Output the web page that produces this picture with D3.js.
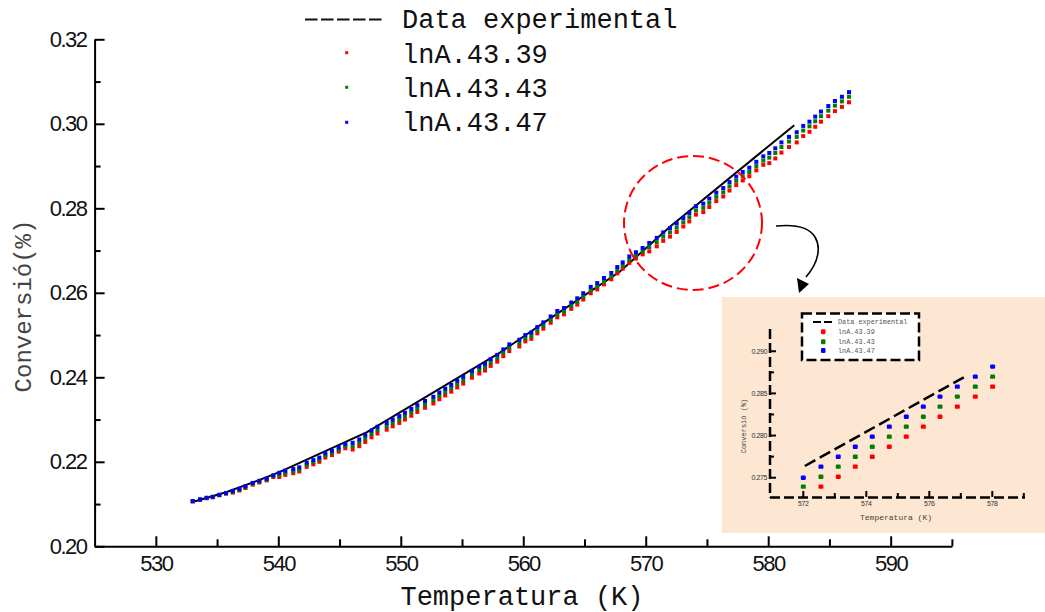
<!DOCTYPE html>
<html>
<head>
<meta charset="utf-8">
<script src="https://cdn.jsdelivr.net/npm/d3@7"></script>
<style>
  body { margin: 0; background: #fff; }
  svg { display: block; }
</style>
</head>
<body>
<svg id="chart" width="1045" height="612"></svg>
<script>
// ---- Main plot data ----
const temperature = [
  533.01, 533.61, 534.15, 534.64, 535.18, 535.73, 536.28, 536.82, 537.31, 537.91,
  538.45, 539.05, 539.59, 540.08, 540.57, 541.22, 541.71, 542.32, 542.86, 543.35,
  543.84, 544.38, 544.93, 545.47, 546.07, 546.61, 547.10, 547.61, 548.10, 548.85,
  549.34, 549.88, 550.34, 550.86, 551.35, 551.98, 552.66, 553.15, 553.63, 554.12,
  554.61, 555.10, 555.81, 556.41, 556.88, 557.34, 557.88, 558.37, 558.86, 559.68,
  560.17, 560.66, 561.15, 561.64, 562.24, 562.78, 563.33, 563.92, 564.41, 564.90,
  565.51, 566.04, 566.59, 567.19, 567.68, 568.12, 568.66, 569.20, 569.75, 570.29,
  570.90, 571.43, 571.98, 572.53, 573.07, 573.56, 574.10, 574.70, 575.19, 575.76,
  576.33, 576.84, 577.39, 577.92, 578.46, 579.03, 579.60, 580.09, 580.58, 581.08,
  581.70, 582.33, 582.86, 583.37, 583.84, 584.31, 584.91, 585.45, 586.02, 586.60
];
const conv4339 = [
  0.2106, 0.2110, 0.2114, 0.2116, 0.2121, 0.2125, 0.2127, 0.2132, 0.2138, 0.2146,
  0.2151, 0.2156, 0.2164, 0.2164, 0.2169, 0.2173, 0.2177, 0.2188, 0.2194, 0.2200,
  0.2210, 0.2216, 0.2224, 0.2232, 0.2229, 0.2237, 0.2247, 0.2258, 0.2267, 0.2276,
  0.2284, 0.2292, 0.2300, 0.2309, 0.2318, 0.2328, 0.2338, 0.2348, 0.2357, 0.2366,
  0.2376, 0.2385, 0.2399, 0.2409, 0.2416, 0.2427, 0.2437, 0.2450, 0.2462, 0.2473,
  0.2485, 0.2491, 0.2504, 0.2515, 0.2529, 0.2542, 0.2549, 0.2562, 0.2572, 0.2584,
  0.2599, 0.2608, 0.2620, 0.2632, 0.2646, 0.2657, 0.2671, 0.2681, 0.2691, 0.2698,
  0.2710, 0.2723, 0.2733, 0.2744, 0.2757, 0.2769, 0.2785, 0.2791, 0.2803, 0.2817,
  0.2828, 0.2842, 0.2855, 0.2866, 0.2876, 0.2890, 0.2903, 0.2907, 0.2918, 0.2932,
  0.2945, 0.2956, 0.2971, 0.2981, 0.2993, 0.3005, 0.3018, 0.3030, 0.3040, 0.3051
];
const conv4343 = [
  0.2107, 0.2111, 0.2114, 0.2117, 0.2121, 0.2125, 0.2129, 0.2134, 0.2140, 0.2148,
  0.2153, 0.2158, 0.2166, 0.2169, 0.2174, 0.2178, 0.2182, 0.2193, 0.2199, 0.2205,
  0.2215, 0.2221, 0.2229, 0.2237, 0.2237, 0.2245, 0.2255, 0.2266, 0.2275, 0.2284,
  0.2292, 0.2300, 0.2308, 0.2317, 0.2326, 0.2336, 0.2346, 0.2356, 0.2365, 0.2374,
  0.2384, 0.2393, 0.2407, 0.2417, 0.2424, 0.2435, 0.2445, 0.2458, 0.2470, 0.2481,
  0.2492, 0.2498, 0.2511, 0.2522, 0.2536, 0.2549, 0.2556, 0.2569, 0.2579, 0.2591,
  0.2606, 0.2615, 0.2627, 0.2639, 0.2653, 0.2664, 0.2678, 0.2688, 0.2698, 0.2708,
  0.2720, 0.2733, 0.2743, 0.2754, 0.2767, 0.2779, 0.2795, 0.2801, 0.2813, 0.2827,
  0.2838, 0.2852, 0.2865, 0.2876, 0.2886, 0.2900, 0.2913, 0.2920, 0.2931, 0.2945,
  0.2958, 0.2969, 0.2984, 0.2994, 0.3006, 0.3018, 0.3031, 0.3043, 0.3053, 0.3064
];
const conv4347 = [
  0.2107, 0.2111, 0.2115, 0.2117, 0.2122, 0.2126, 0.2131, 0.2136, 0.2142, 0.2150,
  0.2155, 0.2160, 0.2168, 0.2174, 0.2179, 0.2183, 0.2187, 0.2198, 0.2204, 0.2210,
  0.2220, 0.2226, 0.2234, 0.2242, 0.2245, 0.2253, 0.2263, 0.2274, 0.2283, 0.2292,
  0.2300, 0.2308, 0.2316, 0.2325, 0.2334, 0.2344, 0.2354, 0.2364, 0.2373, 0.2382,
  0.2392, 0.2401, 0.2415, 0.2425, 0.2432, 0.2443, 0.2453, 0.2466, 0.2478, 0.2489,
  0.2500, 0.2506, 0.2519, 0.2530, 0.2544, 0.2557, 0.2564, 0.2577, 0.2587, 0.2599,
  0.2614, 0.2623, 0.2635, 0.2647, 0.2661, 0.2672, 0.2686, 0.2696, 0.2706, 0.2718,
  0.2730, 0.2743, 0.2753, 0.2764, 0.2777, 0.2789, 0.2805, 0.2811, 0.2823, 0.2837,
  0.2848, 0.2862, 0.2875, 0.2886, 0.2896, 0.2910, 0.2923, 0.2931, 0.2942, 0.2956,
  0.2969, 0.2980, 0.2995, 0.3005, 0.3017, 0.3029, 0.3042, 0.3054, 0.3064, 0.3075
];
const experimentalT = [533.06, 535.73, 538.42, 540.08, 547.24, 558.10, 561.78, 567.90, 571.98, 582.13];
const experimentalC = [0.21055, 0.21281, 0.21565, 0.21755, 0.22703, 0.24584, 0.25312, 0.26505, 0.27565, 0.29967];

const seriesNames = ["lnA.43.39", "lnA.43.43", "lnA.43.47"];
const seriesColors = ["#ff0000", "#008000", "#0000ff"];
const xMajorTicks = [530, 540, 550, 560, 570, 580, 590];
const xMinorTicks = [535, 545, 555, 565, 575, 585, 595];
const yMajorTicks = [0.20, 0.22, 0.24, 0.26, 0.28, 0.30, 0.32];
const yMinorTicks = [0.21, 0.23, 0.25, 0.27, 0.29, 0.31];

// ---- Zoomed panel data ----
const insetT = [572.00, 572.56, 573.11, 573.65, 574.19, 574.73, 575.27, 575.81, 576.34, 576.89, 577.46, 578.01];
const insetC4339 = [null, 0.27394, 0.27512, 0.27631, 0.27749, 0.27868, 0.27987, 0.28106, 0.28224, 0.28343, 0.28462, 0.28580];
const insetC4343 = [0.27394, 0.27512, 0.27631, 0.27749, 0.27868, 0.27987, 0.28106, 0.28224, 0.28343, 0.28462, 0.28580, 0.28699];
const insetC4347 = [0.27500, 0.27631, 0.27749, 0.27868, 0.27987, 0.28106, 0.28224, 0.28343, 0.28462, 0.28580, 0.28699, 0.28818];
const insetExpT = [572.05, 577.19];
const insetExpC = [0.27639, 0.28711];
const insetXMajor = [572, 574, 576, 578];
const insetXMinor = [573, 575, 577, 579];
const insetYMajor = [0.275, 0.280, 0.285, 0.290];
const insetYMinor = [0.2775, 0.2825, 0.2875];

const svg = d3.select("#chart");
const MONO = "'Liberation Mono', 'Courier New', monospace";
const SANS = "'Liberation Sans', Arial, sans-serif";

// ---- Scales ----
const x = d3.scaleLinear().domain([525, 595]).range([94.6, 951.9]);
const y = d3.scaleLinear().domain([0.20, 0.32]).range([546.3, 39.3]);

// ---- Axes (ticks point inward) ----
const gx = svg.append("g").attr("transform", `translate(0,${y(0.20)})`);
gx.call(d3.axisBottom(x).tickValues(xMajorTicks).tickSize(-10).tickSizeOuter(0).tickPadding(9).tickFormat(d3.format("d")));
const gxMinor = svg.append("g").attr("transform", `translate(0,${y(0.20)})`);
gxMinor.call(d3.axisBottom(x).tickValues(xMinorTicks).tickSize(-7).tickSizeOuter(0).tickFormat(""));
gxMinor.select(".domain").remove();

const gy = svg.append("g").attr("transform", `translate(${x(525)},0)`);
gy.call(d3.axisLeft(y).tickValues(yMajorTicks).tickSize(-10).tickSizeOuter(0).tickPadding(8).tickFormat(d3.format(".2f")));
const gyMinor = svg.append("g").attr("transform", `translate(${x(525)},0)`);
gyMinor.call(d3.axisLeft(y).tickValues(yMinorTicks).tickSize(-6).tickSizeOuter(0).tickFormat(""));
gyMinor.select(".domain").remove();

svg.selectAll(".domain, .tick line").attr("stroke", "#000").attr("stroke-width", 2);
[gx, gy].forEach(g => g.selectAll(".tick text")
  .attr("font-family", SANS).attr("font-size", 22).attr("letter-spacing", "-1.5px").attr("fill", "#111"));

// ---- Axis titles ----
svg.append("text").attr("x", 522).attr("y", 605).attr("text-anchor", "middle")
  .attr("font-family", MONO).attr("font-size", 27).attr("fill", "#111").text("Temperatura (K)");
svg.append("text").attr("transform", "translate(31,306) rotate(-90)").attr("text-anchor", "middle")
  .attr("font-family", MONO).attr("font-size", 24).attr("fill", "#444").text("Conversió(%)");

// ---- Experimental curve ----
svg.append("path")
  .datum(experimentalT.map((t, i) => [t, experimentalC[i]]))
  .attr("fill", "none").attr("stroke", "#000").attr("stroke-width", 2)
  .attr("d", d3.line().x(d => x(d[0])).y(d => y(d[1])));

// ---- Simulated series (dots) ----
const seriesValues = [conv4339, conv4343, conv4347];
seriesValues.forEach((vals, s) => {
  svg.append("g").selectAll("rect")
    .data(temperature.map((t, i) => [t, vals[i]]))
    .join("rect")
    .attr("x", d => x(d[0]) - 2).attr("y", d => y(d[1]) - 2)
    .attr("width", 4).attr("height", 4)
    .attr("fill", seriesColors[s]);
});

// ---- Legend ----
svg.append("line").attr("x1", 305).attr("x2", 382).attr("y1", 19.5).attr("y2", 19.5)
  .attr("stroke", "#111").attr("stroke-width", 2).attr("stroke-dasharray", "12.5,3.5");
svg.append("text").attr("x", 402).attr("y", 28).attr("font-family", MONO).attr("font-size", 27)
  .attr("fill", "#111").text("Data experimental");
const legendY = [52.7, 87.3, 122.3];
const legendBase = [63, 97, 130.5];
seriesNames.forEach((name, s) => {
  svg.append("rect").attr("x", 345.2).attr("y", legendY[s] - 1.5).attr("width", 3).attr("height", 3)
    .attr("fill", seriesColors[s]);
  svg.append("text").attr("x", 402).attr("y", legendBase[s]).attr("font-family", MONO).attr("font-size", 27)
    .attr("fill", "#111").text(name);
});

// ---- Highlight circle and pointer ----
svg.append("ellipse").attr("cx", 693).attr("cy", 223).attr("rx", 69).attr("ry", 67)
  .attr("fill", "none").attr("stroke", "#ff0000").attr("stroke-width", 2).attr("stroke-dasharray", "11,5");
svg.append("path")
  .attr("d", "M776,226 C796,224 809,227 815,237 C821,247 819,262 806,277")
  .attr("fill", "none").attr("stroke", "#000").attr("stroke-width", 1.6);
svg.append("path").attr("d", "M799,293 L797,278 L809,284 Z").attr("fill", "#000");

// ---- Zoomed panel ----
const inset = svg.append("g");
inset.append("rect").attr("x", 722).attr("y", 297).attr("width", 323).attr("height", 236).attr("fill", "#fde7d3");
const ix = d3.scaleLinear().domain([571, 579]).range([771.8, 1023.8]);
const iy = d3.scaleLinear().domain([0.2727, 0.2927]).range([497.1, 328.5]);
const dash = "10,4";

// axes
inset.append("line").attr("x1", 770).attr("x2", 1025).attr("y1", 497.5).attr("y2", 497.5)
  .attr("stroke", "#000").attr("stroke-width", 2.5).attr("stroke-dasharray", dash);
inset.append("line").attr("x1", 770).attr("x2", 770).attr("y1", 329).attr("y2", 497.5)
  .attr("stroke", "#000").attr("stroke-width", 2.5).attr("stroke-dasharray", dash);
inset.selectAll(".ixt").data(insetXMajor.concat(insetXMinor)).join("line")
  .attr("x1", d => ix(d)).attr("x2", d => ix(d)).attr("y1", 497)
  .attr("y2", d => insetXMajor.includes(d) ? 491 : 493)
  .attr("stroke", "#000").attr("stroke-width", 2);
inset.selectAll(".iyt").data(insetYMajor.concat(insetYMinor)).join("line")
  .attr("y1", d => iy(d)).attr("y2", d => iy(d)).attr("x1", 770)
  .attr("x2", d => insetYMajor.includes(d) ? 776 : 774)
  .attr("stroke", "#000").attr("stroke-width", 2);
inset.selectAll(".ixl").data(insetXMajor).join("text")
  .attr("x", d => ix(d)).attr("y", 506).attr("text-anchor", "middle")
  .attr("font-family", SANS).attr("font-size", 7).attr("letter-spacing", "-0.4px").attr("fill", "#333")
  .text(d3.format("d"));
inset.selectAll(".iyl").data(insetYMajor).join("text")
  .attr("x", 767).attr("y", d => iy(d)).attr("dy", "0.32em").attr("text-anchor", "end")
  .attr("font-family", SANS).attr("font-size", 7).attr("letter-spacing", "-0.4px").attr("fill", "#333")
  .text(d3.format(".3f"));
inset.append("text").attr("x", 896).attr("y", 520).attr("text-anchor", "middle")
  .attr("font-family", MONO).attr("font-size", 8).attr("fill", "#444").text("Temperatura (K)");
inset.append("text").attr("transform", "translate(746,426) rotate(-90)").attr("text-anchor", "middle")
  .attr("font-family", MONO).attr("font-size", 7).attr("fill", "#444").text("Conversió (%)");

// experimental line and dots
inset.append("path")
  .datum(insetExpT.map((t, i) => [t, insetExpC[i]]))
  .attr("fill", "none").attr("stroke", "#000").attr("stroke-width", 2.5).attr("stroke-dasharray", "12,5")
  .attr("d", d3.line().x(d => ix(d[0])).y(d => iy(d[1])));
[insetC4339, insetC4343, insetC4347].forEach((vals, s) => {
  inset.append("g").selectAll("rect")
    .data(insetT.map((t, i) => [t, vals[i]]).filter(d => d[1] !== null))
    .join("rect")
    .attr("x", d => ix(d[0]) - 2.5).attr("y", d => iy(d[1]) - 2.2)
    .attr("width", 5).attr("height", 4.4).attr("rx", 1.2)
    .attr("fill", seriesColors[s]);
});

// panel legend
inset.append("rect").attr("x", 802).attr("y", 313.5).attr("width", 117).attr("height", 46.5)
  .attr("fill", "#fff").attr("stroke", "#000").attr("stroke-width", 2.5).attr("stroke-dasharray", dash);
inset.append("line").attr("x1", 813).attr("x2", 835).attr("y1", 322).attr("y2", 322)
  .attr("stroke", "#000").attr("stroke-width", 2).attr("stroke-dasharray", "8,3");
inset.append("text").attr("x", 838).attr("y", 322).attr("dy", "0.32em")
  .attr("font-family", MONO).attr("font-size", 6.8).attr("fill", "#555").text("Data experimental");
const insetLegY = [331.7, 341.7, 350.5];
seriesNames.forEach((name, s) => {
  inset.append("rect").attr("x", 821).attr("y", insetLegY[s] - 2.5).attr("width", 4.5).attr("height", 5)
    .attr("rx", 1.2).attr("fill", seriesColors[s]);
  inset.append("text").attr("x", 838).attr("y", insetLegY[s]).attr("dy", "0.32em")
    .attr("font-family", MONO).attr("font-size", 6.8).attr("fill", "#555").text(name);
});
</script>
</body>
</html>
